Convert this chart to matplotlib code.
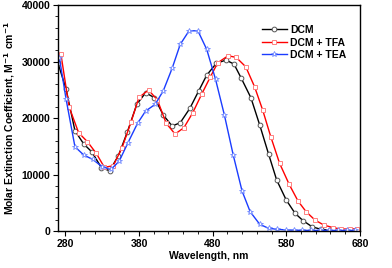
import numpy as np
import matplotlib.pyplot as plt
from matplotlib.ticker import MultipleLocator

plt.rcParams['font.family'] = ['Liberation Sans', 'DejaVu Sans']
plt.rcParams['font.weight'] = 'bold'

# DCM
wl_dcm = [270, 281, 293, 305, 316, 329, 340, 352, 364, 377, 389, 401, 413, 425, 436,
          449, 461, 472, 485, 498, 509, 519, 532, 544, 556, 567, 580, 592, 603, 615,
          627, 639, 651, 663, 675]
ab_dcm = [29700, 25100, 17750, 15400, 14000, 11200, 10670, 13330, 17470, 22430, 24480,
          23600, 20530, 18590, 19170, 21700, 24780, 27600, 29680, 30270, 29560, 27030,
          23600, 18760, 13630, 9030, 5490, 3130, 1820, 760, 300, 150, 80, 50, 40]

# DCM + TFA
wl_tfa = [274, 285, 298, 310, 322, 333, 345, 357, 369, 380, 393, 405, 417, 429, 441,
          453, 465, 477, 487, 501, 512, 525, 537, 548, 559, 571, 584, 596, 607, 619,
          631, 644, 655, 667, 676]
ab_tfa = [31270, 22000, 17400, 15800, 13750, 11270, 11560, 14750, 19240, 23660, 24960,
          23200, 19060, 17170, 18290, 20940, 24190, 27310, 29790, 31030, 30740, 29080,
          25540, 21420, 16690, 11980, 8260, 5310, 3420, 1950, 1060, 580, 350, 350, 400]

# DCM + TEA
wl_tea = [272, 281, 293, 305, 317, 330, 342, 353, 365, 378, 389, 402, 413, 425, 436,
          448, 460, 472, 484, 496, 508, 520, 531, 544, 556, 568, 579, 590, 602, 614,
          626, 638, 650, 662, 674]
ab_tea = [30560, 23310, 14920, 13450, 12690, 11380, 10920, 12340, 15630, 19060, 21240,
          22430, 24830, 28800, 33040, 35450, 35450, 32160, 26850, 20530, 13450, 7080,
          3420, 1190, 480, 300, 200, 150, 120, 100, 100, 100, 100, 100, 100]

fig = plt.figure(figsize=(3.92, 2.68), dpi=100)
ax = fig.add_axes([0.148, 0.138, 0.770, 0.843])

ax.plot(wl_dcm, ab_dcm, color='black', lw=1.0, marker='o', ms=3.4,
        mfc='white', mec='#555555', mew=0.7, label='DCM')
ax.plot(wl_tfa, ab_tfa, color='#ff0000', lw=1.0, marker='s', ms=3.4,
        mfc='white', mec='#ff8080', mew=0.7, label='DCM + TFA')
ax.plot(wl_tea, ab_tea, color='#1a3cff', lw=1.0, marker='*', ms=4.2,
        mfc='white', mec='#7088ff', mew=0.6, label='DCM + TEA')

ax.set_xlim(270, 680)
ax.set_ylim(0, 40000)
ax.xaxis.set_major_locator(MultipleLocator(100))
ax.xaxis.set_minor_locator(MultipleLocator(20))
ax.yaxis.set_major_locator(MultipleLocator(10000))
ax.yaxis.set_minor_locator(MultipleLocator(2000))
ax.set_xticks([280, 380, 480, 580, 680])
ax.tick_params(axis='both', which='major', direction='out', length=3.5, width=0.8,
               labelsize=7.5, top=False, right=False, pad=2)
ax.tick_params(axis='both', which='minor', direction='out', length=2, width=0.6,
               top=False, right=False)
for s in ax.spines.values():
    s.set_linewidth(1.0)

ax.set_xlabel('Wavelength, nm', fontsize=7.5, fontweight='bold', labelpad=2)
ax.set_ylabel('Molar Extinction Coefficient, M$^{\\mathbf{-1}}$ cm$^{\\mathbf{-1}}$',
              fontsize=7.5, fontweight='bold', labelpad=3)

ax.legend(loc='upper right', bbox_to_anchor=(0.975, 0.94), frameon=False, fontsize=7.5,
          handlelength=2.4, handletextpad=0.3, labelspacing=0.25, borderaxespad=0.2)

fig.savefig('out.png', dpi=100)
